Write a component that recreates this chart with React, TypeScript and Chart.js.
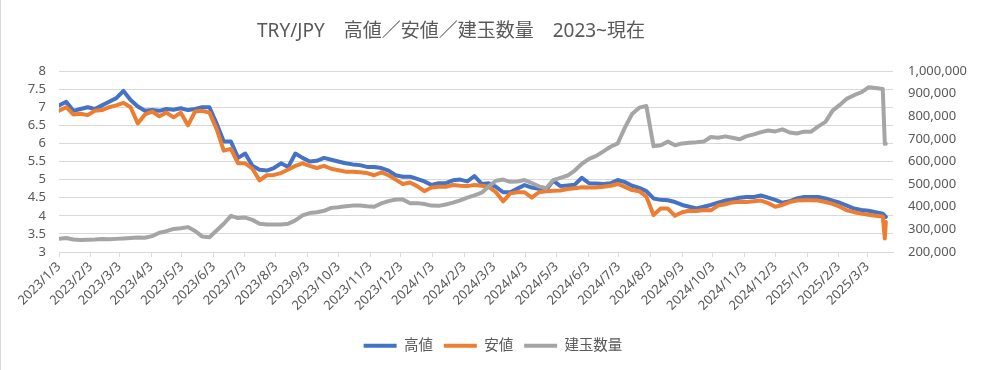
import React, { useEffect, useRef } from "react";
import { Chart, registerables } from "chart.js";

Chart.register(...registerables);

const TITLE = "TRY/JPY\u3000高値／安値／建玉数量\u30002023~現在";
const SERIES_NAMES = ["高値", "安値", "建玉数量"];

const START_DATE = "2023/1/3";
// weekly observations starting 2023/1/3, then the two last trading days
const WEEKS = 116;
const TAIL_DAYS = [807, 808];

const tickLabels = [
  "2023/1/3", "2023/2/3", "2023/3/3", "2023/4/3", "2023/5/3", "2023/6/3",
  "2023/7/3", "2023/8/3", "2023/9/3", "2023/10/3", "2023/11/3", "2023/12/3",
  "2024/1/3", "2024/2/3", "2024/3/3", "2024/4/3", "2024/5/3", "2024/6/3",
  "2024/7/3", "2024/8/3", "2024/9/3", "2024/10/3", "2024/11/3", "2024/12/3",
  "2025/1/3", "2025/2/3", "2025/3/3",
];
const AXIS_END_DAY = 815;

const high = [
  7.05, 7.15, 6.9, 6.95, 7.0, 6.95, 7.05, 7.15, 7.25, 7.45,
  7.2, 7.02, 6.9, 6.92, 6.9, 6.95, 6.93, 6.97, 6.92, 6.95,
  7.0, 7.0, 6.55, 6.05, 6.05, 5.6, 5.72, 5.38, 5.27, 5.25,
  5.32, 5.45, 5.35, 5.72, 5.6, 5.5, 5.52, 5.6, 5.55, 5.5,
  5.45, 5.42, 5.4, 5.35, 5.35, 5.32, 5.25, 5.12, 5.08, 5.08,
  5.02, 4.95, 4.85, 4.9, 4.9, 4.98, 5.0, 4.95, 5.1, 4.88,
  4.9, 4.8, 4.65, 4.65, 4.75, 4.85, 4.78, 4.75, 4.72, 4.97,
  4.82, 4.84, 4.86, 5.05, 4.9, 4.89, 4.88, 4.9, 4.99, 4.93,
  4.83, 4.77, 4.68, 4.48, 4.44, 4.43, 4.38, 4.3, 4.25, 4.2,
  4.25, 4.3, 4.36, 4.42, 4.45, 4.5, 4.52, 4.52, 4.56, 4.5,
  4.44, 4.36, 4.4, 4.48, 4.52, 4.52, 4.52, 4.48, 4.42, 4.36,
  4.28, 4.2, 4.16, 4.14, 4.1, 4.06,
  4.0, 3.97,
];

const low = [
  6.9, 7.0, 6.8, 6.82, 6.78, 6.9, 6.92, 7.0, 7.05, 7.12,
  7.0, 6.55, 6.8, 6.88, 6.75, 6.85, 6.72, 6.85, 6.5, 6.88,
  6.9, 6.85, 6.4, 5.8, 5.85, 5.45, 5.45, 5.3, 4.98, 5.12,
  5.13, 5.18, 5.28, 5.38, 5.45, 5.38, 5.32, 5.38, 5.3, 5.26,
  5.22, 5.22, 5.2, 5.18, 5.12, 5.2, 5.12, 5.0, 4.88, 4.92,
  4.82, 4.68, 4.78, 4.8, 4.8, 4.85, 4.83, 4.82, 4.85, 4.83,
  4.8, 4.65, 4.4, 4.62, 4.65, 4.65, 4.5, 4.65, 4.68, 4.69,
  4.7, 4.74, 4.76, 4.79, 4.78, 4.78, 4.8, 4.83, 4.88, 4.8,
  4.71, 4.68, 4.53, 4.02, 4.2, 4.2, 4.0, 4.1, 4.14, 4.13,
  4.16, 4.15, 4.28, 4.32, 4.37, 4.39, 4.38, 4.4, 4.42, 4.35,
  4.25, 4.3, 4.38, 4.42, 4.43, 4.43, 4.42, 4.38, 4.33, 4.25,
  4.15, 4.1, 4.06, 4.03, 4.0, 3.98,
  3.37, 3.83,
];

const openInterest = [
  258000, 262000, 255000, 253000, 254000, 255000, 257000, 256000, 258000, 260000,
  262000, 264000, 263000, 270000, 285000, 292000, 302000, 305000, 310000, 293000,
  268000, 265000, 295000, 325000, 360000, 350000, 352000, 342000, 325000, 322000,
  322000, 322000, 325000, 340000, 362000, 372000, 376000, 382000, 395000, 398000,
  402000, 405000, 406000, 402000, 400000, 415000, 425000, 432000, 432000, 415000,
  416000, 412000, 405000, 404000, 410000, 418000, 428000, 440000, 450000, 462000,
  490000, 515000, 520000, 510000, 512000, 518000, 505000, 490000, 482000, 518000,
  528000, 538000, 560000, 590000, 612000, 625000, 645000, 665000, 680000, 750000,
  810000, 838000, 845000, 667000, 672000, 688000, 672000, 680000, 683000, 685000,
  688000, 708000, 705000, 711000, 705000, 698000, 712000, 720000, 730000, 737000,
  733000, 742000, 728000, 724000, 732000, 732000, 755000, 775000, 825000, 850000,
  878000, 893000, 906000, 928000, 925000, 920000,
  678000, 678000,
];

const TEXT_COLOR = "#595959";
const GRID_COLOR = "#d9d9d9";
const FONT_FAMILY = '"Noto Sans", "Noto Sans CJK JP", sans-serif';
const LINE_WIDTH = 4;

function parseDay(label: string): number {
  const [y, m, d] = label.split("/").map(Number);
  const [sy, sm, sd] = START_DATE.split("/").map(Number);
  return Math.round((Date.UTC(y, m - 1, d) - Date.UTC(sy, sm - 1, sd)) / 86400000);
}

const dayOffsets: number[] = [];
for (let i = 0; i < WEEKS; i++) dayOffsets.push(i * 7);
dayOffsets.push(...TAIL_DAYS);

const tickDays = tickLabels.map(parseDay);

const frameAndTitle = {
  id: "frameAndTitle",
  afterDraw(chart: any) {
    const ctx = chart.ctx;
    ctx.save();
    ctx.strokeStyle = GRID_COLOR;
    ctx.lineWidth = 1;
    ctx.beginPath();
    ctx.moveTo(0.5, 0);
    ctx.lineTo(0.5, chart.height);
    ctx.stroke();
    ctx.fillStyle = TEXT_COLOR;
    ctx.font = `19px ${FONT_FAMILY}`;
    ctx.textAlign = "center";
    ctx.textBaseline = "middle";
    ctx.fillText(TITLE, 451, 32);
    ctx.restore();
  },
};

export default function App() {
  const canvasRef = useRef<HTMLCanvasElement | null>(null);

  useEffect(() => {
    document.body.style.margin = "0";
    const canvas = canvasRef.current;
    if (!canvas) return;

    const toPoints = (vals: number[]) => dayOffsets.map((d, i) => ({ x: d, y: vals[i] }));

    const chart = new Chart(canvas, {
      type: "line",
      data: {
        datasets: [
          {
            label: SERIES_NAMES[0],
            data: toPoints(high),
            borderColor: "#4472C4",
            backgroundColor: "#4472C4",
            borderWidth: LINE_WIDTH,
            yAxisID: "y",
            order: 2,
          },
          {
            label: SERIES_NAMES[1],
            data: toPoints(low),
            borderColor: "#ED7D31",
            backgroundColor: "#ED7D31",
            borderWidth: LINE_WIDTH,
            yAxisID: "y",
            order: 1,
          },
          {
            label: SERIES_NAMES[2],
            data: toPoints(openInterest),
            borderColor: "#A5A5A5",
            backgroundColor: "#A5A5A5",
            borderWidth: LINE_WIDTH,
            yAxisID: "y1",
            order: 0,
          },
        ],
      },
      options: {
        responsive: false,
        animation: false,
        devicePixelRatio: 1,
        elements: {
          point: { radius: 0, hoverRadius: 0 },
          line: {
            tension: 0,
            borderCapStyle: "round",
            borderJoinStyle: "round",
          },
        },
        layout: { padding: { top: 71, left: 0, right: 0, bottom: 7 } },
        plugins: {
          title: { display: false },
          tooltip: { enabled: false },
          legend: {
            position: "bottom",
            labels: {
              usePointStyle: true,
              pointStyle: "line",
              pointStyleWidth: 33,
              padding: 11,
              color: TEXT_COLOR,
              font: { size: 14.5, family: FONT_FAMILY },
              sort: (a: any, b: any) => a.datasetIndex - b.datasetIndex,
            },
          },
        },
        scales: {
          x: {
            type: "linear",
            min: 0,
            max: AXIS_END_DAY,
            afterBuildTicks: (axis: any) => {
              axis.ticks = tickDays.map((v) => ({ value: v }));
            },
            afterFit: (axis: any) => {
              axis.height = 75.5;
            },
            ticks: {
              autoSkip: false,
              maxRotation: 45,
              minRotation: 45,
              color: TEXT_COLOR,
              font: { size: 13, family: FONT_FAMILY },
              padding: 2,
              callback: (_v: any, i: number) => tickLabels[i],
            },
            grid: {
              drawOnChartArea: false,
              drawTicks: true,
              tickLength: 5,
              color: GRID_COLOR,
            },
            border: { display: true, color: GRID_COLOR },
          },
          y: {
            position: "left",
            min: 3,
            max: 8,
            afterFit: (axis: any) => {
              axis.width = 59;
            },
            ticks: {
              stepSize: 0.5,
              autoSkip: false,
              color: TEXT_COLOR,
              font: { size: 13, family: FONT_FAMILY },
              padding: 13,
              callback: (v: any) => String(Math.round(Number(v) * 10) / 10),
            },
            grid: { color: GRID_COLOR, drawTicks: false, lineWidth: 1 },
            border: { display: false },
          },
          y1: {
            position: "right",
            min: 200000,
            max: 1000000,
            afterFit: (axis: any) => {
              axis.width = 93;
            },
            ticks: {
              stepSize: 100000,
              autoSkip: false,
              color: TEXT_COLOR,
              font: { size: 13, family: FONT_FAMILY },
              padding: 15,
              callback: (v: any) => Number(v).toLocaleString("en-US"),
            },
            grid: { drawOnChartArea: false, drawTicks: false },
            border: { display: false },
          },
        },
      },
      plugins: [frameAndTitle],
    } as any);

    return () => chart.destroy();
  }, []);

  return (
    <div style={{ width: 986, height: 370, position: "relative" }}>
      <canvas ref={canvasRef} width={986} height={370} style={{ display: "block" }} />
    </div>
  );
}
